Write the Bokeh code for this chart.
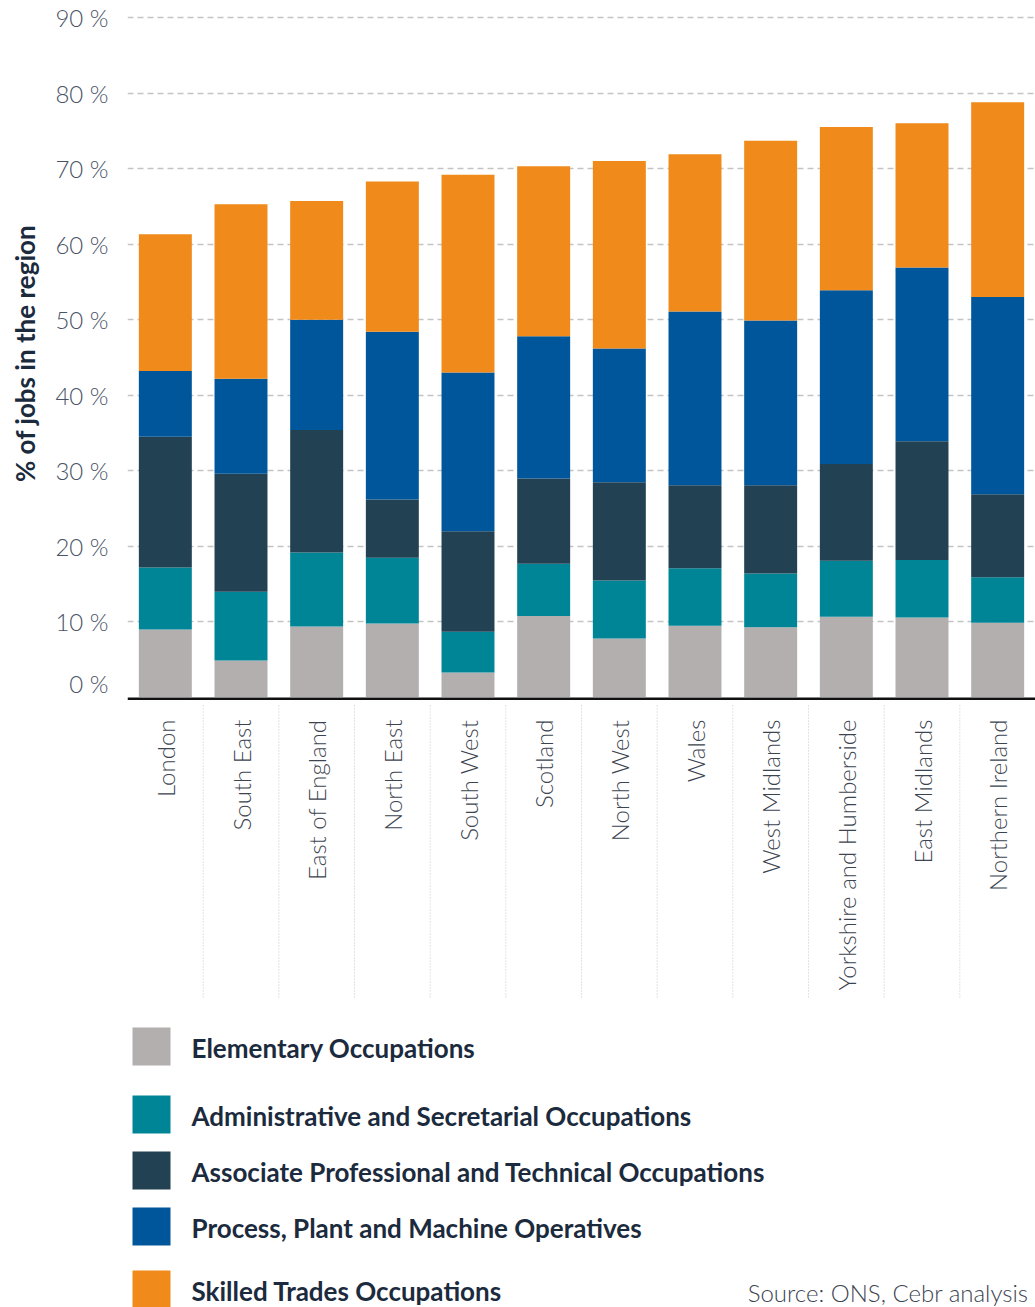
from math import pi
from bokeh.plotting import figure
from bokeh.models import ColumnDataSource, FixedTicker, Range1d, FactorRange
from bokeh.layouts import column
from bokeh.embed import file_html
from bokeh.resources import INLINE
from bokeh.core.properties import value

# ---------------- data ----------------
regions = ["London", "South East", "East of England", "North East", "South West",
           "Scotland", "North West", "Wales", "West Midlands",
           "Yorkshire and Humberside", "East Midlands", "Northern Ireland"]
elementary     = [9.0, 4.9, 9.4, 9.8, 3.3, 10.8, 7.8, 9.5, 9.3, 10.7, 10.6, 9.9]
administrative = [8.2, 9.1, 9.8, 8.7, 5.4, 6.9, 7.7, 7.6, 7.1, 7.4, 7.6, 6.0]
associate      = [17.3, 15.6, 16.2, 7.7, 13.3, 11.3, 13.0, 11.0, 11.7, 12.8, 15.7, 11.0]
process        = [8.7, 12.6, 14.6, 22.2, 21.0, 18.8, 17.7, 23.0, 21.8, 23.0, 23.0, 26.1]
skilled        = [18.1, 23.1, 15.7, 19.9, 26.2, 22.5, 24.8, 20.8, 23.8, 21.6, 19.1, 25.8]

series_names = ["Elementary Occupations",
                "Administrative and Secretarial Occupations",
                "Associate Professional and Technical Occupations",
                "Process, Plant and Machine Operatives",
                "Skilled Trades Occupations"]
series_colors = ["#b2afae", "#008597", "#224152", "#00569a", "#f08a1a"]
y_ticks = [0, 10, 20, 30, 40, 50, 60, 70, 80, 90]
y_tick_labels = ["0 %", "10 %", "20 %", "30 %", "40 %", "50 %", "60 %", "70 %", "80 %", "90 %"]
y_title = "% of jobs in the region"
source_note = "Source: ONS, Cebr analysis"

LIGHT = "'Lato Light', Lato"
BOLD = "Lato"
TICK_COLOR = "#4a5466"
DARK_TEXT = "#1b2b3d"

# ---------------- main chart ----------------
data = {"region": regions}
keys = ["s0", "s1", "s2", "s3", "s4"]
for k, vals in zip(keys, [elementary, administrative, associate, process, skilled]):
    data[k] = vals
src = ColumnDataSource(data)

p = figure(x_range=FactorRange(factors=regions), y_range=Range1d(0, 91.06),
           width=1035, height=697,
           min_border_left=127, min_border_right=0, min_border_top=9, min_border_bottom=0,
           x_axis_location=None, toolbar_location=None, output_backend="svg",
           outline_line_color=None, background_fill_color="white")

p.vbar_stack(keys, x="region", width=0.70, source=src,
             fill_color=series_colors, line_color=None)

p.xgrid.visible = False
p.ygrid.ticker = FixedTicker(ticks=y_ticks[1:])
p.ygrid.grid_line_color = "#c4c4c4"
p.ygrid.grid_line_dash = "6 4"
p.ygrid.grid_line_width = 1.5
p.ygrid.level = "underlay"

ax = p.yaxis[0]
ax.ticker = FixedTicker(ticks=y_ticks)
ax.major_label_overrides = {t: l for t, l in zip(y_ticks, y_tick_labels)}
ax.axis_line_color = None
ax.major_tick_line_color = None
ax.minor_tick_line_color = None
ax.major_tick_in = 0
ax.major_tick_out = 0
ax.major_label_standoff = 19
ax.major_label_text_font = LIGHT
ax.major_label_text_font_size = "24px"
ax.major_label_text_color = TICK_COLOR
ax.axis_label = y_title
ax.axis_label_text_font = BOLD
ax.axis_label_text_font_style = "bold"
ax.axis_label_text_font_size = "26px"
ax.axis_label_text_color = DARK_TEXT
ax.axis_label_standoff = 11

# ---------------- category labels strip ----------------
n = len(regions)
q = figure(x_range=Range1d(0, n), y_range=Range1d(1000, 697),
           width=1035, height=303,
           min_border_left=127, min_border_right=0, min_border_top=0, min_border_bottom=0,
           x_axis_location=None, y_axis_location=None, toolbar_location=None,
           output_backend="svg", outline_line_color=None)
q.grid.visible = False

# baseline (0 %)
q.segment(x0=[0], y0=[698], x1=[n], y1=[698], line_color="#111111", line_width=3)
# dotted separators between categories
sep_x = list(range(1, n))
q.segment(x0=sep_x, y0=[705] * len(sep_x), x1=sep_x, y1=[997] * len(sep_x),
          line_color="#c6c6c6", line_width=1, line_dash="1 2")
lab_src = ColumnDataSource({"x": [i + 0.5 for i in range(n)], "y": [719] * n, "t": regions})
q.text(x="x", y="y", text="t", source=lab_src, angle=pi / 2,
       text_align="right", text_baseline="middle",
       text_font=value(LIGHT), text_font_size="24px", text_color="#3c4450")

# ---------------- legend ----------------
r = figure(x_range=Range1d(127, 1035), y_range=Range1d(1307, 1000),
           width=1035, height=307,
           min_border_left=127, min_border_right=0, min_border_top=0, min_border_bottom=0,
           x_axis_location=None, y_axis_location=None, toolbar_location=None,
           output_backend="svg", outline_line_color=None)
r.grid.visible = False
leg_y = [1046, 1114, 1170, 1226, 1289]
leg_src = ColumnDataSource({"y": leg_y, "ty": [v + 1 for v in leg_y],
                            "name": series_names, "color": series_colors})
r.rect(x=151, y="y", width=38, height=38, fill_color="color", line_color=None, source=leg_src)
r.text(x=191, y="ty", text="name", source=leg_src, text_align="left", text_baseline="middle",
       text_font=value(BOLD), text_font_style="bold", text_font_size="26px",
       text_color=DARK_TEXT)
r.text(x=[1028], y=[1292], text=[source_note], text_align="right", text_baseline="middle",
       text_font=value(LIGHT), text_font_size="24px", text_color="#3c4450")

layout = column(p, q, r, spacing=0)
open("out.html", "w").write(file_html(layout, INLINE))
